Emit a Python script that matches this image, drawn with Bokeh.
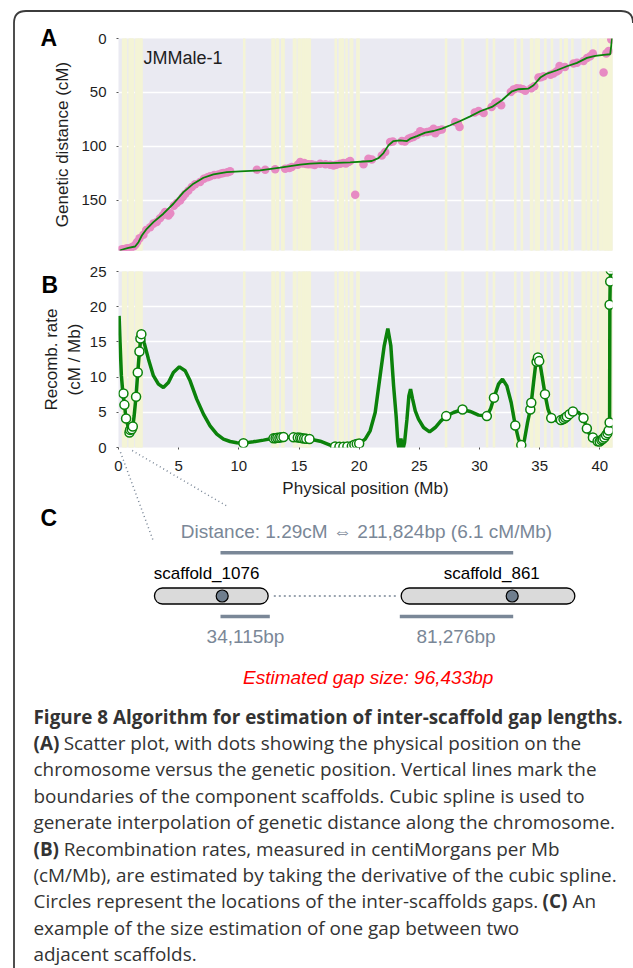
from bokeh.plotting import figure
from bokeh.models import Range1d, FixedTicker, Label
from bokeh.core.properties import value
from bokeh.embed import file_html
from bokeh.resources import INLINE

# ---------------- data ----------------
# scaffold boundaries (Mb)
boundaries = [0.38, 0.52, 0.62, 0.92, 1.0, 1.1, 1.2, 1.48, 1.6, 1.72, 1.84, 1.92, 10.45,
              12.8, 12.9, 13.15, 13.25, 13.6, 13.72, 14.58, 14.7, 14.98, 15.08, 15.28, 15.4,
              15.55, 15.68, 15.8, 15.9, 18.05, 18.4, 18.55, 18.65, 18.95, 19.3, 19.42, 19.85,
              19.95, 27.22, 28.6, 30.62, 31.2, 32.97, 33.52, 34.28, 34.38, 34.68, 34.8, 34.92,
              35.47, 36.02, 36.75, 37.12, 37.25, 37.72, 38.58, 38.72, 39.0, 39.12, 39.48, 39.68,
              40.0, 40.15, 40.35, 40.45, 40.55, 40.65, 40.75, 40.85, 40.95, 41.03]

# markers: physical position (Mb) vs genetic position (cM)
marker_mb = [0.2, 0.35, 0.5, 0.65, 0.8, 0.95, 1.1, 1.25, 1.4, 1.55, 1.75,
             2.07, 2.3, 2.63, 2.9, 3.18, 3.45, 3.7, 3.87, 4.0, 4.15, 4.3, 4.6, 4.85,
             5.12, 5.34, 5.54, 5.8, 6.09, 6.37, 6.78, 7.1, 7.4, 7.61, 7.95, 8.3, 8.55, 8.72,
             9.0, 9.14, 9.28, 11.5, 12.19, 13.02, 13.85, 14.2, 14.4, 14.9, 15.1, 15.3, 15.43,
             15.6, 15.79, 16.05, 16.3, 16.76, 17.2, 17.59, 17.87, 18.1, 18.42, 18.69, 18.9,
             19.11, 19.25, 19.67, 20.36, 20.77, 21.05, 21.88, 22.16, 22.57, 22.8, 23.55, 23.8,
             24.1, 24.3, 24.51, 24.8, 25.07, 25.3, 25.63, 25.9, 26.18, 26.32, 26.6, 26.87,
             27.98, 28.2, 28.34, 29.6, 29.92, 30.34, 31.0, 31.3, 31.5, 31.8, 32.6, 32.83, 33.1,
             33.38, 33.6, 33.8, 34.3, 34.55, 34.9, 35.1, 35.32, 35.9, 36.15, 36.4, 36.57, 36.65,
             37.1, 37.81, 38.1, 38.64, 38.93, 39.2, 39.42, 40.31, 40.53, 40.73, 40.95]
marker_cm = [195.8, 195.2, 195.5, 194.6, 194.2, 194.8, 193.5, 192.8, 191.0, 188.5, 185.0,
             181.8, 177.5, 174.8, 171.5, 170.0, 166.5, 163.5, 160.8, 161.8, 164.0, 162.0, 155.0, 152.5,
             150.0, 146.9, 144.0, 141.0, 137.6, 135.0, 133.0, 130.0, 128.5, 127.7, 126.5, 125.9, 125.0, 124.5,
             124.2, 123.7, 123.0, 121.5, 121.5, 121.2, 120.6, 120.0, 119.0, 117.0, 114.5, 115.8, 115.4,
             116.2, 116.6, 116.5, 117.2, 116.0, 116.5, 116.9, 117.7, 117.0, 116.0, 115.4, 115.8,
             114.5, 113.5, 144.7, 116.6, 111.3, 112.2, 108.3, 105.2, 95.9, 95.5, 95.0, 95.5,
             92.8, 92.0, 91.3, 89.5, 86.0, 87.0, 86.6, 86.0, 83.5, 87.7, 85.0, 84.4,
             77.4, 78.5, 82.0, 68.5, 67.2, 69.0, 63.5, 59.7, 58.5, 61.9, 49.5, 47.3, 46.0,
             46.4, 47.0, 48.3, 46.0, 44.2, 36.2, 35.8, 35.0, 33.5, 32.5, 30.5, 29.4, 25.4,
             26.5, 23.2, 22.5, 20.8, 18.0, 16.5, 13.9, 31.5, 13.9, 11.5, 1.0]

# cubic spline
spline_mb = [0.1, 0.27, 0.82, 1.38, 1.66, 1.94, 2.35, 2.9, 3.73, 4.56, 5.4, 6.23, 7.06, 7.89, 9.0,
             10.1, 11.77, 13.43, 15.1, 15.93, 16.77, 17.59, 19.25, 21.05, 21.6, 22.02, 22.43, 22.85,
             23.4, 23.97, 24.24, 24.8, 25.49, 26.18, 26.87, 27.57, 28.4, 29.23, 30.06, 31.03, 31.86,
             32.7, 33.24, 34.07, 34.49, 35.05, 35.6, 36.43, 37.26, 38.1, 38.93, 39.62, 40.31, 40.86,
             41.0, 41.05]
spline_cm = [196.4, 195.7, 193.9, 192.7, 188.7, 182.5, 176.3, 170.1, 162.3, 153.1, 142.3, 134.5,
             129.0, 125.9, 123.7, 123.1, 122.2, 119.7, 116.9, 116.0, 115.4, 115.4, 114.8, 113.5,
             110.8, 106.1, 99.0, 95.0, 94.3, 95.0, 92.8, 90.4, 87.2, 85.7, 83.5, 80.4, 76.4, 72.1,
             67.4, 63.4, 57.2, 48.9, 47.0, 46.4, 43.3, 36.2, 32.5, 29.4, 25.7, 22.6, 18.0, 16.1,
             15.2, 14.6, 1.6, -2.0]

# recombination rate (derivative of spline)
rate_mb = [0.05, 0.13, 0.24, 0.36, 0.49, 0.63, 0.82, 0.96, 1.16, 1.3, 1.46, 1.6, 1.74, 1.88, 1.97,
           2.13, 2.49, 2.9, 3.32, 3.73, 4.15, 4.56, 5.06, 5.54, 5.95, 6.5, 7.06, 7.61, 8.17, 8.72,
           9.28, 9.83, 10.38, 11.2, 12.05, 12.88, 13.71, 14.54, 15.2, 15.87, 16.76, 17.59, 18.0,
           18.69, 19.4, 20.0, 20.5, 20.91, 21.33, 21.74, 22.08, 22.38, 22.63, 22.86, 23.07, 23.21,
           23.32, 23.47, 23.63, 23.77, 23.97, 24.13, 24.27, 24.44, 24.66, 24.93, 25.35, 25.85,
           26.32, 26.79, 27.23, 27.84, 28.59, 29.22, 29.92, 30.61, 30.93, 31.2, 31.58, 31.91,
           32.27, 32.63, 32.97, 33.24, 33.47, 33.72, 33.99, 34.22, 34.3, 34.49, 34.68, 34.85,
           35.02, 35.24, 35.44, 35.69, 35.96, 36.43, 36.76, 37.12, 37.48, 37.82, 38.23, 38.64,
           38.92, 39.2, 39.42, 39.76, 40.04, 40.31, 40.59, 40.78, 40.81, 40.83, 40.86, 40.92]
rate_cm_mb = [18.7, 14.9, 10.2, 7.8, 6.06, 4.1, 2.84, 2.04, 2.6, 4.5, 7.3, 10.65, 13.7, 15.9, 16.2,
              14.9, 12.55, 10.2, 9.0, 8.52, 9.23, 10.65, 11.46, 10.9, 9.47, 6.87, 4.74, 3.08, 1.9,
              1.19, 0.85, 0.67, 0.62, 0.81, 1.05, 1.3, 1.47, 1.44, 1.35, 1.2, 0.9, 0.34, 0.14,
              0.1, 0.38, 0.57, 1.19, 2.37, 4.97, 10.2, 14.45, 16.9, 14.45, 8.76, 4.5, 0.85,
              -0.3, 1.28, -0.3, 0.7, 4.03, 7.34, 8.29, 6.87, 5.21, 4.03, 2.84, 2.23,
              2.84, 3.79, 4.46, 4.97, 5.4, 5.12, 4.6, 4.46, 5.54, 7.06, 9.0, 9.71,
              8.76, 6.4, 3.13, 1.19, 0.34, 0.95, 3.55, 5.4, 6.35, 9.23, 12.0, 13.0,
              12.0, 9.71, 7.58, 5.45, 4.18, 3.79, 3.89, 4.22, 4.74, 5.26, 4.97, 4.18,
              2.7, 1.66, 1.42, 0.95, 0.9, 1.28, 1.9, 2.84, 3.55, 20.4, 23.6, 25.5]

# inter-scaffold gaps
gap_mb = [0.41, 0.49, 0.63, 0.91, 0.96, 1.1, 1.19, 1.46, 1.6, 1.74, 1.82, 1.9, 10.38, 12.88,
          13.05, 13.2, 13.37, 13.52, 13.71, 14.54, 14.9, 15.1, 15.24, 15.43, 15.6, 15.87, 18.0,
          18.36, 18.69, 19.02, 19.39, 19.6, 19.8, 20.0, 27.23, 28.59, 30.61, 31.2, 32.97, 33.47,
          34.22, 34.3, 34.74, 34.85, 34.96, 35.44, 35.96, 36.76, 36.98, 37.12, 37.26, 37.48,
          37.76, 38.64, 38.92, 39.42, 39.81, 39.98, 40.12, 40.23, 40.37, 40.51, 40.64, 40.73,
          40.81, 40.81, 40.86, 40.9]
gap_rate = [7.67, 6.06, 4.12, 2.13, 2.5, 2.6, 2.98, 7.2, 10.65, 13.64, 15.48, 16.1, 0.62, 1.3,
            1.33, 1.37, 1.4, 1.45, 1.5, 1.44, 1.42, 1.38, 1.33, 1.28, 1.25, 1.2, 0.14,
            0.1, 0.1, 0.14, 0.2, 0.38, 0.48, 0.57, 4.46, 5.4, 4.46, 7.06, 3.13, 0.34,
            5.4, 6.35, 12.17, 12.79, 12.27, 7.58, 4.18, 3.89, 4.03, 4.22, 4.41, 4.74,
            5.12, 4.18, 2.7, 1.42, 0.9, 0.86, 1.05, 1.19, 1.42, 1.76, 2.04, 2.41,
            3.55, 20.27, 23.58, 25.2]

a_yticks = [0, 50, 100, 150]
b_yticks = [0, 5, 10, 15, 20, 25]
b_xticks = [0, 5, 10, 15, 20, 25, 30, 35, 40]

chromosome_name = "JMMale-1"
distance_text = "Distance: 1.29cM \u21d4 211,824bp (6.1 cM/Mb)"
left_scaffold = "scaffold_1076"
right_scaffold = "scaffold_861"
left_len = "34,115bp"
right_len = "81,276bp"
gap_text = "Estimated gap size: 96,433bp"

caption_lines = [
    [("Figure 8 Algorithm for estimation of inter-scaffold gap lengths.", True)],
    [("(A)", True), ("Scatter plot, with dots showing the physical position on the", False)],
    [("chromosome versus the genetic position. Vertical lines mark the", False)],
    [("boundaries of the component scaffolds. Cubic spline is used to", False)],
    [("generate interpolation of genetic distance along the chromosome.", False)],
    [("(B)", True), ("Recombination rates, measured in centiMorgans per Mb", False)],
    [("(cM/Mb), are estimated by taking the derivative of the cubic spline.", False)],
    [("Circles represent the locations of the inter-scaffolds gaps.", False), ("(C)", True), ("An", False)],
    [("example of the size estimation of one gap between two", False)],
    [("adjacent scaffolds.", False)],
]
caption_seg_x = [[33], [33, 63.2], [33], [33], [33], [33, 63.2], [33], [33, 542, 572], [33], [33]]

# ---------------- styling ----------------
W = 633
X_MAX = 41.05
AX_FONT = "Liberation Sans"
CAP_FONT = "Open Sans"
BG = "#EAEAF2"
YELLOW = "#F4F4D6"
PINK = "#E78AC3"
GREEN = "#0B820B"
SLATE = "#7A8797"
TXT = "#1e1e1e"
BORDER = "#3c3c3c"

# frame geometry in page px
FL, FR = 118.0, 612.0
A_TOP, A_BOT = 38.0, 250.0
XS = (FR - FL) / X_MAX
AYS = (A_BOT - A_TOP) / 196.4


def a_data(px, py):
    return (px - FL) / XS, (py - A_TOP) / AYS


def style(p):
    p.outline_line_color = None
    p.background_fill_color = BG
    p.xgrid.grid_line_color = None
    p.ygrid.grid_line_color = "white"
    p.ygrid.grid_line_width = 1.6
    for ax in list(p.xaxis) + list(p.yaxis):
        ax.axis_line_color = None
        ax.major_tick_line_color = "#555555"
        ax.major_tick_out = 2
        ax.major_tick_in = 0
        ax.minor_tick_line_color = None
        ax.major_label_text_font = AX_FONT
        ax.major_label_text_font_size = "15px"
        ax.major_label_text_color = TXT
        ax.major_label_standoff = 10
        ax.axis_label_text_font = AX_FONT
        ax.axis_label_text_font_size = "17px"
        ax.axis_label_text_font_style = "normal"
        ax.axis_label_text_color = TXT


# ---------------- panel A ----------------
pa = figure(width=W, height=255, x_range=Range1d(0, X_MAX), y_range=Range1d(196.4, 0),
            x_axis_location=None, output_backend="svg", toolbar_location=None, title=None,
            min_border_left=118, min_border_right=21, min_border_top=38, min_border_bottom=5)
style(pa)
pa.yaxis.ticker = FixedTicker(ticks=a_yticks)
pa.yaxis.axis_label = "Genetic distance (cM)"
pa.yaxis.axis_label_standoff = 6
pa.segment(x0=boundaries, x1=boundaries, y0=-10, y1=210, line_color=YELLOW, line_width=2.5)
pa.scatter(marker_mb, marker_cm, size=8.5, fill_color=PINK, line_color=None)
pa.line(spline_mb, spline_cm, line_color=GREEN, line_width=1.8)
jx, jy = a_data(143, 57.5)
pa.add_layout(Label(x=jx, y=jy, text=chromosome_name, text_font=AX_FONT, text_font_size="18px",
                    text_color=TXT, text_baseline="middle", text_align="left"))

# ---------------- panel B ----------------
pb = figure(width=W, height=248, x_range=Range1d(0, X_MAX), y_range=Range1d(0, 25),
            output_backend="svg", toolbar_location=None, title=None,
            min_border_left=118, min_border_right=21, min_border_top=16, min_border_bottom=56)
style(pb)
pb.xaxis.ticker = FixedTicker(ticks=b_xticks)
pb.yaxis.ticker = FixedTicker(ticks=b_yticks)
pb.xaxis.major_label_standoff = 11
pb.xaxis.axis_label = "Physical position (Mb)"
pb.xaxis.axis_label_standoff = 5
pb.yaxis.axis_label = "Recomb. rate\n(cM / Mb)"
pb.yaxis.axis_label_standoff = 3
pb.segment(x0=boundaries, x1=boundaries, y0=-5, y1=30, line_color=YELLOW, line_width=2.5)
pb.line(rate_mb, rate_cm_mb, line_color=GREEN, line_width=3.5)
pb.scatter(gap_mb, gap_rate, size=9, fill_color="white", line_color=GREEN, line_width=1.5)

# ---------------- overlay: frame box, panel letters, panel C, caption (page px) ----------------
pc = figure(width=W, height=968, x_range=Range1d(0, W), y_range=Range1d(968, 0),
            x_axis_location=None, y_axis_location=None, output_backend="svg",
            toolbar_location=None, title=None, min_border=0,
            styles={"position": "absolute", "top": "0px", "left": "0px"})
pc.outline_line_color = None
pc.background_fill_alpha = 0
pc.border_fill_alpha = 0
pc.xgrid.visible = False
pc.ygrid.visible = False

# box around the figure
pc.segment(x0=[13.5, 25.5], y0=[22.5, 10.5], x1=[13.5, 620.5], y1=[968, 10.5],
           line_color=BORDER, line_width=1.8)
pc.quadratic(x0=[13.5, 620.5], y0=[22.5, 10.5], x1=[25.5, 632.5], y1=[10.5, 22.5],
             cx=[13.5, 632.5], cy=[10.5, 10.5], line_color=BORDER, line_width=1.8)

# panel letters
pc.text(x=[40, 41, 40], y=[37, 284, 517], text=["A", "B", "C"], text_font=value(AX_FONT),
        text_font_size="23px", text_font_style="bold", text_color="black",
        text_baseline="middle", text_align="left")

# zoom guide lines from panel B to panel C
guides = [((120.0, 451.7), (153.3, 541.7)), ((131.7, 450.0), (227.0, 506.0))]
pc.segment(x0=[g[0][0] for g in guides], y0=[g[0][1] for g in guides],
           x1=[g[1][0] for g in guides], y1=[g[1][1] for g in guides],
           line_color=SLATE, line_width=1.5, line_dash="1 3")

pc.text(x=[366], y=[531], text=[distance_text], text_font=value(AX_FONT), text_font_size="19px",
        text_color=SLATE, text_baseline="middle", text_align="center")
pc.segment(x0=[220], y0=[552.3], x1=[512.7], y1=[552.3], line_color=SLATE, line_width=3.5)
pc.text(x=[153.3], y=[573], text=[left_scaffold], text_font=value(AX_FONT), text_font_size="17px",
        text_color="black", text_baseline="middle", text_align="left")
pc.text(x=[539.3], y=[573], text=[right_scaffold], text_font=value(AX_FONT), text_font_size="17px",
        text_color="black", text_baseline="middle", text_align="right")
# scaffolds drawn as round-capped thick lines
CAP_H = 17.3
caps = [(153.3, 268.3), (400.0, 575.0)]
for (l, r) in caps:
    pc.segment(x0=[l + CAP_H / 2], y0=[595.5], x1=[r - CAP_H / 2], y1=[595.5], line_color="black",
               line_width=CAP_H, line_cap="round")
    pc.segment(x0=[l + CAP_H / 2], y0=[595.5], x1=[r - CAP_H / 2], y1=[595.5], line_color="#DADADA",
               line_width=CAP_H - 2.6, line_cap="round")
pc.segment(x0=[273.3], y0=[595.5], x1=[396.7], y1=[595.5], line_color=SLATE, line_width=1.6,
           line_dash="2 3")
pc.scatter(x=[221.7, 511.7], y=[595.5, 595.5], size=12, fill_color="#6F7E8E", line_color="black",
           line_width=1.2)
pc.segment(x0=[220, 399.3], y0=[616, 616], x1=[269.3, 512.7], y1=[616, 616], line_color=SLATE,
           line_width=3.5)
pc.text(x=[245, 455.5], y=[636, 636], text=[left_len, right_len], text_font=value(AX_FONT),
        text_font_size="19px", text_color=SLATE, text_baseline="middle", text_align="center")
pc.text(x=[367.7], y=[677], text=[gap_text], text_font=value(AX_FONT), text_font_size="19px",
        text_font_style="italic", text_color="#FF0000", text_baseline="middle", text_align="center")

# caption
LINE0, LSTEP = 716.0, 26.4
reg_x, reg_y, reg_t, bold_x, bold_y, bold_t = [], [], [], [], [], []
for i, segs in enumerate(caption_lines):
    for (txt, is_bold), sx in zip(segs, caption_seg_x[i]):
        if is_bold:
            bold_x.append(sx); bold_y.append(LINE0 + i * LSTEP); bold_t.append(txt)
        else:
            reg_x.append(sx); reg_y.append(LINE0 + i * LSTEP); reg_t.append(txt)
pc.text(x=reg_x, y=reg_y, text=reg_t, text_font=value(CAP_FONT), text_font_size="18.9px",
        text_color="#333333", text_baseline="middle", text_align="left")
pc.text(x=bold_x, y=bold_y, text=bold_t, text_font=value(CAP_FONT), text_font_size="18.9px",
        text_font_style="bold", text_color="#333333", text_baseline="middle", text_align="left")

open("out.html", "w").write(file_html([pa, pb, pc], INLINE))
